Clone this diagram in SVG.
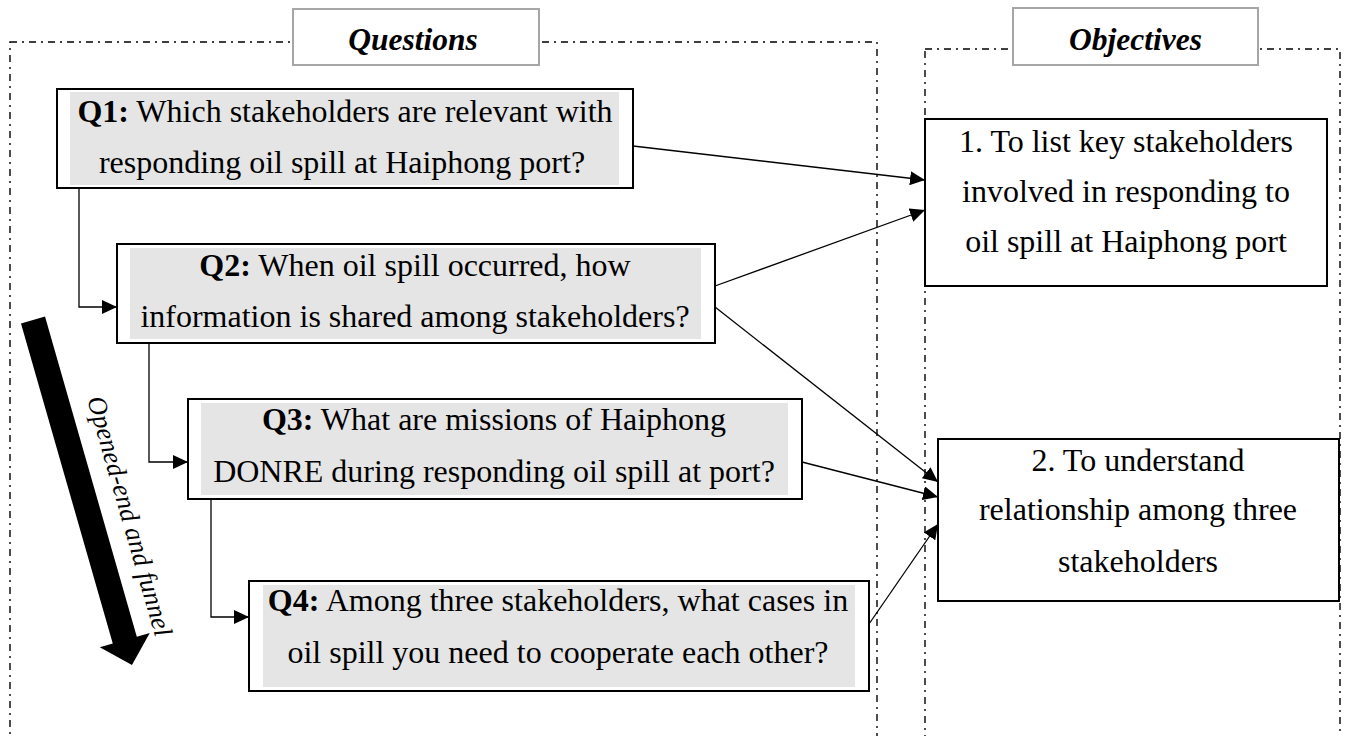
<svg xmlns="http://www.w3.org/2000/svg" width="1346" height="736" viewBox="0 0 1346 736">
  <defs>
    <marker id="arrow" markerUnits="userSpaceOnUse" markerWidth="15" markerHeight="14" refX="15" refY="7" orient="auto">
      <path d="M0,0 L15,7 L0,14 z" fill="#000"/>
    </marker>
    <style>
      .frame { fill: none; stroke: #000; stroke-width: 1.4; stroke-dasharray: 7 5 2 5; }
      .header { fill: #fff; stroke: #a6a6a6; stroke-width: 2; }
      .header-text { font-family: "Liberation Serif", "Times New Roman", serif; font-size: 31.5px; font-weight: bold; font-style: italic; text-anchor: middle; fill: #000; }
      .qbox { fill: #fff; stroke: #000; stroke-width: 2; }
      .qfill { fill: #e5e5e5; }
      .obox { fill: #fff; stroke: #000; stroke-width: 2; }
      .txt { font-family: "Liberation Serif", "Times New Roman", serif; font-size: 32px; text-anchor: middle; fill: #000; }
      .b { font-weight: bold; }
      .conn { fill: none; stroke: #000; stroke-width: 1.3; marker-end: url(#arrow); }
      .funnel-text { font-family: "Liberation Serif", "Times New Roman", serif; font-size: 26.5px; font-style: italic; fill: #000; }
    </style>
  </defs>

  <!-- dash-dot frames for the two columns -->
  <g id="frames">
    <rect class="frame" x="10" y="42" width="867" height="720"/>
    <rect class="frame" x="925" y="49" width="415" height="720"/>
  </g>

  <!-- column headers -->
  <g id="header-questions">
    <rect class="header" x="293" y="9" width="246" height="56"/>
    <text class="header-text" x="413" y="50">Questions</text>
  </g>
  <g id="header-objectives">
    <rect class="header" x="1013" y="8" width="245" height="57"/>
    <text class="header-text" x="1135.5" y="50">Objectives</text>
  </g>

  <!-- question nodes -->
  <g id="q1">
    <rect class="qbox" x="57" y="89" width="576" height="99"/>
    <rect class="qfill" x="70" y="92" width="549" height="93"/>
    <text class="txt" x="345" y="122"><tspan class="b">Q1:</tspan> Which stakeholders are relevant with</text>
    <text class="txt" x="342" y="173">responding oil spill at Haiphong port?</text>
  </g>
  <g id="q2">
    <rect class="qbox" x="117" y="244" width="598" height="99"/>
    <rect class="qfill" x="130" y="248" width="571" height="91"/>
    <text class="txt" x="415" y="276"><tspan class="b">Q2:</tspan> When oil spill occurred, how</text>
    <text class="txt" x="415" y="327">information is shared among stakeholders?</text>
  </g>
  <g id="q3">
    <rect class="qbox" x="188" y="399" width="614" height="100"/>
    <rect class="qfill" x="201" y="403" width="587" height="92"/>
    <text class="txt" x="494" y="430"><tspan class="b">Q3:</tspan> What are missions of Haiphong</text>
    <text class="txt" x="494" y="482">DONRE during responding oil spill at port?</text>
  </g>
  <g id="q4">
    <rect class="qbox" x="249" y="581" width="620" height="110"/>
    <rect class="qfill" x="263" y="585" width="592" height="102"/>
    <text class="txt" x="558" y="611"><tspan class="b">Q4:</tspan> Among three stakeholders, what cases in</text>
    <text class="txt" x="558" y="663">oil spill you need to cooperate each other?</text>
  </g>

  <!-- objective nodes -->
  <g id="obj1">
    <rect class="obox" x="925" y="119" width="402" height="167"/>
    <text class="txt" x="1126" y="152">1. To list key stakeholders</text>
    <text class="txt" x="1126" y="202">involved in responding to</text>
    <text class="txt" x="1126" y="252">oil spill at Haiphong port</text>
  </g>
  <g id="obj2">
    <rect class="obox" x="938" y="439" width="401" height="162"/>
    <text class="txt" x="1138" y="471">2. To understand</text>
    <text class="txt" x="1138" y="520">relationship among three</text>
    <text class="txt" x="1138" y="572">stakeholders</text>
  </g>

  <!-- funnel arrow with its caption -->
  <g id="funnel">
    <polygon transform="translate(33,320) rotate(-16)" fill="#000"
      points="-12.5,0 12.5,0 12.5,333 26,333 0,359 -26,333 -12.5,333"/>
    <text class="funnel-text" transform="translate(87,399) rotate(74)">Opened-end and funnel</text>
  </g>

  <!-- connectors -->
  <g id="connectors">
    <polyline class="conn" points="79,188 79,307 117,307"/>
    <polyline class="conn" points="149,343 149,462 188,462"/>
    <polyline class="conn" points="211,499 211,617 249,617"/>
    <line class="conn" x1="633" y1="146" x2="925" y2="180"/>
    <line class="conn" x1="715" y1="286" x2="925" y2="210"/>
    <line class="conn" x1="715" y1="307" x2="938" y2="482"/>
    <line class="conn" x1="802" y1="462" x2="938" y2="497"/>
    <line class="conn" x1="869" y1="624" x2="938" y2="524"/>
  </g>
</svg>
